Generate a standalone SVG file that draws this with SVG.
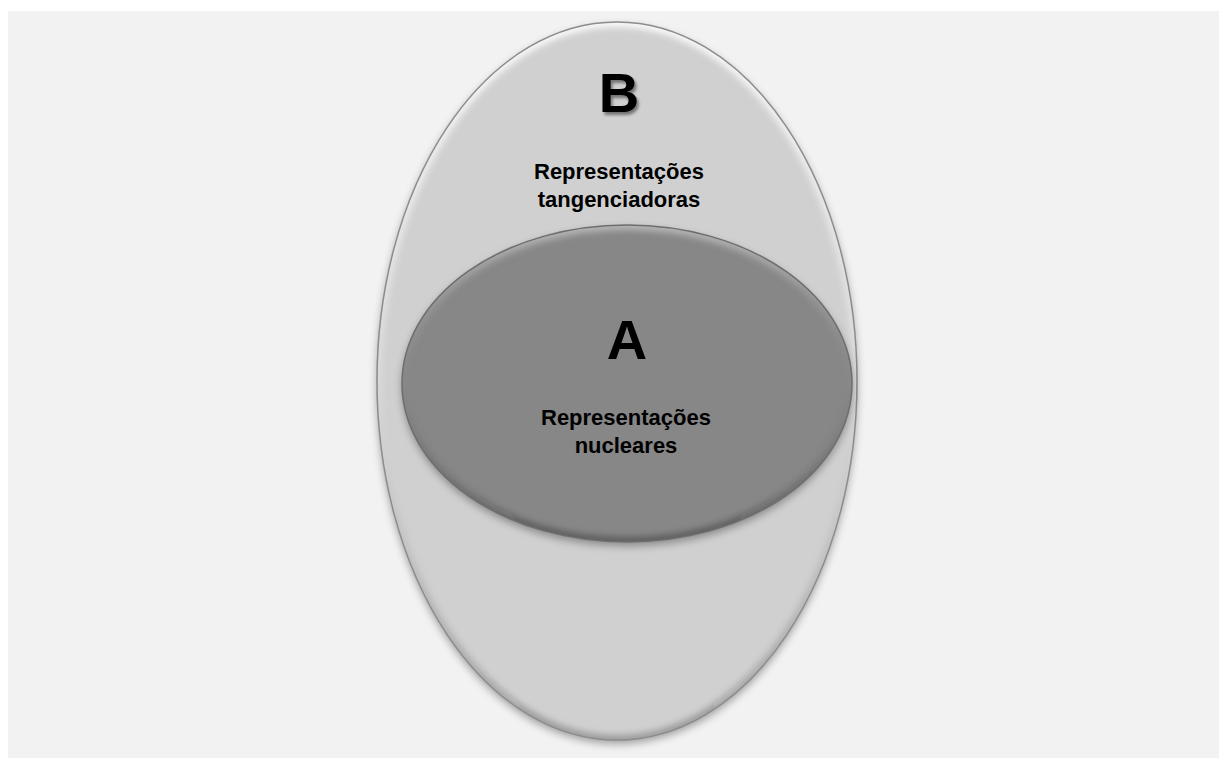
<svg xmlns="http://www.w3.org/2000/svg" width="1219" height="758" viewBox="0 0 1219 758">
  <defs>
    <filter id="shadow" x="-20%" y="-20%" width="140%" height="140%">
      <feGaussianBlur in="SourceAlpha" stdDeviation="4"/>
      <feOffset dx="0" dy="4" result="b"/>
      <feComponentTransfer><feFuncA type="linear" slope="0.35"/></feComponentTransfer>
      <feMerge><feMergeNode/><feMergeNode in="SourceGraphic"/></feMerge>
    </filter>
    <filter id="bevel" x="-5%" y="-5%" width="110%" height="110%">
      <feGaussianBlur stdDeviation="3"/>
    </filter>
    <filter id="txtshadow" x="-30%" y="-30%" width="160%" height="160%">
      <feGaussianBlur in="SourceAlpha" stdDeviation="1.5"/>
      <feOffset dx="2" dy="3"/>
      <feComponentTransfer><feFuncA type="linear" slope="0.45"/></feComponentTransfer>
      <feMerge><feMergeNode/><feMergeNode in="SourceGraphic"/></feMerge>
    </filter>
    <linearGradient id="hiOuter" x1="0" y1="0" x2="0" y2="1">
      <stop offset="0" stop-color="#ffffff" stop-opacity="0.9"/>
      <stop offset="0.5" stop-color="#ffffff" stop-opacity="0.2"/>
      <stop offset="1" stop-color="#000000" stop-opacity="0.25"/>
    </linearGradient>
    <linearGradient id="hiInner" x1="0" y1="0" x2="0" y2="1">
      <stop offset="0" stop-color="#bdbdbd" stop-opacity="0.9"/>
      <stop offset="0.5" stop-color="#8a8a8a" stop-opacity="0.2"/>
      <stop offset="1" stop-color="#000000" stop-opacity="0.3"/>
    </linearGradient>
    <clipPath id="clipOuter"><ellipse cx="617" cy="381" rx="240" ry="359"/></clipPath>
    <clipPath id="clipInner"><ellipse cx="627" cy="383.5" rx="225" ry="158.5"/></clipPath>
    <style>
      .lbl { font-family: "Liberation Sans", Arial, sans-serif; font-weight: bold; fill: #000; text-anchor: middle; }
      .big { font-size: 56px; }
      .small { font-size: 22px; }
    </style>
  </defs>

  <rect x="0" y="0" width="1219" height="758" fill="#ffffff"/>
  <rect x="8" y="11" width="1211" height="747" fill="#f2f2f2"/>

  <g id="nodeB">
    <ellipse cx="617" cy="381" rx="240" ry="359" fill="#d0d0d0" filter="url(#shadow)"/>
    <g clip-path="url(#clipOuter)">
      <ellipse cx="617" cy="381" rx="240" ry="359" fill="none" stroke="url(#hiOuter)" stroke-width="10" filter="url(#bevel)"/>
    </g>
    <ellipse cx="617" cy="381" rx="240" ry="359" fill="none" stroke="#8c8c8c" stroke-width="1.5"/>
    <text class="lbl big" x="619" y="112" filter="url(#txtshadow)">B</text>
    <text class="lbl small" x="619" y="179">Representações</text>
    <text class="lbl small" x="619" y="207">tangenciadoras</text>
  </g>

  <g id="nodeA">
    <ellipse cx="627" cy="383.5" rx="225" ry="158.5" fill="#878787" filter="url(#shadow)"/>
    <g clip-path="url(#clipInner)">
      <ellipse cx="627" cy="383.5" rx="225" ry="158.5" fill="none" stroke="url(#hiInner)" stroke-width="10" filter="url(#bevel)"/>
    </g>
    <ellipse cx="627" cy="383.5" rx="225" ry="158.5" fill="none" stroke="#6e6e6e" stroke-width="1.5"/>
    <text class="lbl big" x="627" y="359">A</text>
    <text class="lbl small" x="626" y="425">Representações</text>
    <text class="lbl small" x="626" y="453">nucleares</text>
  </g>

  <g id="connectors"/>
</svg>
